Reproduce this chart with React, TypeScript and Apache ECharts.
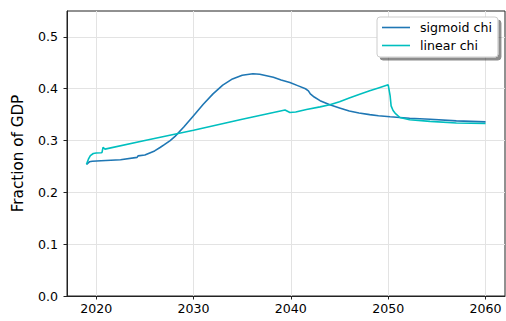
import React, { useEffect, useRef } from "react";
import * as echarts from "echarts";

const xTicks = [2020, 2030, 2040, 2050, 2060];
const yTicks = [0, 0.1, 0.2, 0.3, 0.4, 0.5];

const sigmoidYears = [
  2019.0, 2019.3, 2019.6, 2020.5, 2022.5, 2024.2, 2024.3, 2025.0, 2025.5, 2026.0,
  2026.6, 2027.0, 2027.6, 2028.1, 2029.0, 2030.0, 2031.0, 2032.0, 2033.0, 2034.0,
  2035.0, 2036.1, 2036.8, 2037.5, 2038.2, 2039.0, 2039.9, 2040.7, 2041.5, 2041.8,
  2042.0, 2042.4, 2043.0, 2044.0, 2045.0, 2046.0, 2047.0, 2048.1, 2049.0, 2050.2,
  2052.2, 2054.3, 2057.0, 2060.0,
];
const sigmoidValues = [
  0.254, 0.259, 0.26, 0.261, 0.263, 0.2675, 0.2705, 0.272, 0.276, 0.28,
  0.287, 0.292, 0.3, 0.308, 0.326, 0.348, 0.37, 0.39, 0.407, 0.419,
  0.426, 0.429, 0.428, 0.425, 0.422, 0.417, 0.412, 0.406, 0.4, 0.396,
  0.39, 0.384, 0.377, 0.369, 0.363, 0.357, 0.353, 0.35, 0.348, 0.346,
  0.343, 0.341, 0.338, 0.336,
];

const linearYears = [
  2019.0, 2019.2, 2019.4, 2019.7, 2020.0, 2020.5, 2020.6, 2020.7, 2020.9, 2025.0,
  2030.0, 2035.0, 2039.4, 2039.9, 2040.5, 2041.6, 2043.0, 2044.0, 2045.0, 2046.0,
  2047.0, 2048.1, 2049.0, 2050.0, 2050.2, 2050.3, 2050.5, 2050.7, 2051.2, 2052.2,
  2054.3, 2057.0, 2060.0,
];
const linearValues = [
  0.254, 0.264, 0.271, 0.275, 0.276, 0.2765, 0.277, 0.287, 0.2835, 0.3,
  0.32, 0.341, 0.359, 0.354, 0.355, 0.36, 0.365, 0.369, 0.375, 0.382,
  0.389, 0.396, 0.4015, 0.4075, 0.386, 0.367, 0.358, 0.353, 0.3445, 0.34,
  0.337, 0.334, 0.333,
];

const FONT = "DejaVu Sans";

export default function App() {
  const ref = useRef<HTMLDivElement>(null);
  useEffect(() => {
    if (!ref.current) return;
    const chart = echarts.init(ref.current, undefined, { renderer: "svg" });
    chart.setOption({
      animation: false,
      grid: {
        left: 67,
        right: 1,
        top: 11,
        bottom: 25,
        show: true,
        borderColor: "#222",
        borderWidth: 1,
        backgroundColor: "transparent",
      },
      legend: {
        left: 377,
        top: 17,
        orient: "vertical",
        itemWidth: 28,
        itemHeight: 12,
        itemGap: 5,
        padding: [4, 6, 5, 5],
        backgroundColor: "#fff",
        borderColor: "#ccc",
        borderWidth: 1,
        borderRadius: 3,
        shadowColor: "rgba(0,0,0,0.45)",
        shadowOffsetX: 3,
        shadowOffsetY: 3,
        shadowBlur: 0,
        formatter: "{t|{name}}",
        textStyle: {
          fontFamily: FONT,
          fontSize: 12.6,
          color: "#000",
          rich: { t: { fontFamily: FONT, fontSize: 12.6, color: "#000", padding: [0, 0, 0, 5] } },
        },
        data: [
          { name: "sigmoid chi", icon: "path://M0,0 L28,0 L28,1.6 L0,1.6 Z" },
          { name: "linear chi", icon: "path://M0,0 L28,0 L28,1.6 L0,1.6 Z" },
        ],
      },
      xAxis: {
        type: "value",
        min: 2017,
        max: 2062,
        axisLine: { show: true, onZero: false, lineStyle: { color: "#222", width: 1 } },
        axisTick: {
          show: true,
          customValues: xTicks,
          length: 3.5,
          lineStyle: { color: "#222" },
        },
        axisLabel: {
          customValues: xTicks,
          fontFamily: FONT,
          fontSize: 12.6,
          color: "#000",
          margin: 6,
          formatter: (v: number) => String(v),
        },
        splitLine: { show: true, lineStyle: { color: "#e3e3e3", width: 1 } },
      },
      yAxis: {
        type: "value",
        min: 0,
        max: 0.55,
        name: "Fraction of GDP",
        nameLocation: "middle",
        nameRotate: 90,
        nameGap: 42,
        nameTextStyle: { fontFamily: FONT, fontSize: 15.2, color: "#000" },
        axisLine: { show: true, onZero: false, lineStyle: { color: "#222", width: 1 } },
        axisTick: {
          show: true,
          customValues: yTicks,
          length: 3.5,
          lineStyle: { color: "#222" },
        },
        axisLabel: {
          customValues: yTicks,
          fontFamily: FONT,
          fontSize: 12.6,
          color: "#000",
          margin: 9,
          formatter: (v: number) => v.toFixed(1),
        },
        splitLine: { show: true, lineStyle: { color: "#e3e3e3", width: 1 } },
      },
      series: [
        {
          name: "sigmoid chi",
          type: "line",
          symbol: "none",
          smooth: false,
          color: "#1f77b4",
          lineStyle: { width: 1.6, color: "#1f77b4" },
          data: sigmoidYears.map((y, i) => [y, sigmoidValues[i]]),
        },
        {
          name: "linear chi",
          type: "line",
          symbol: "none",
          smooth: false,
          color: "#00bfbf",
          lineStyle: { width: 1.6, color: "#00bfbf" },
          data: linearYears.map((y, i) => [y, linearValues[i]]),
        },
      ],
    });
    return () => chart.dispose();
  }, []);
  return <div ref={ref} style={{ width: 506, height: 321, position: "absolute", left: 0, top: 0 }} />;
}
